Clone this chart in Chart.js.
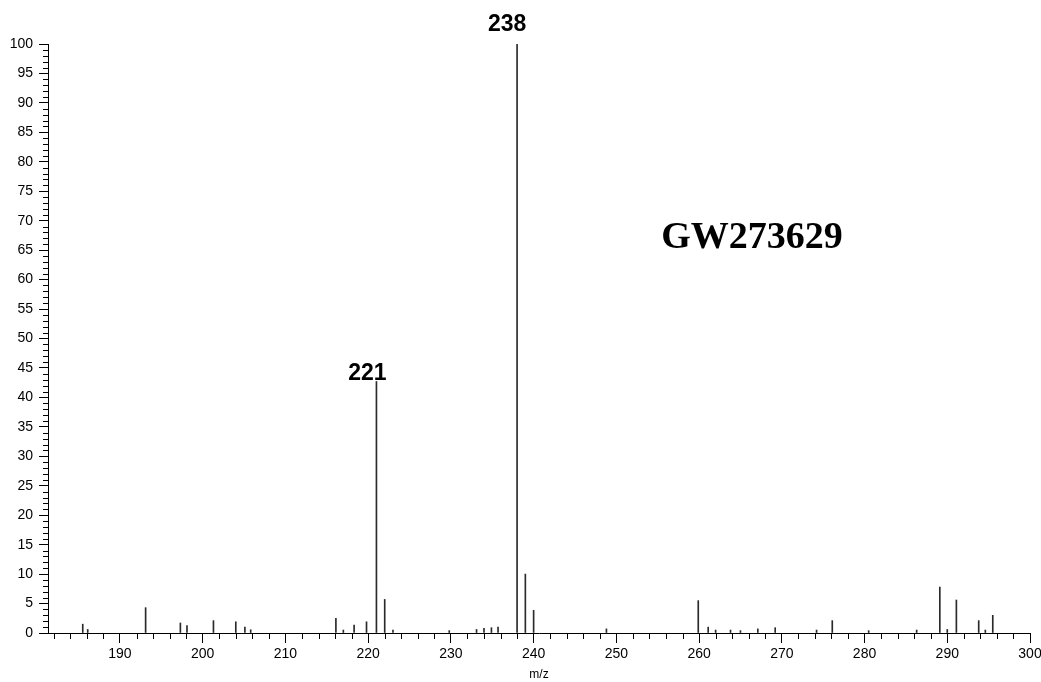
<!DOCTYPE html>
<html>
<head>
<meta charset="utf-8">
<script src="https://cdn.jsdelivr.net/npm/chart.js@4/dist/chart.umd.min.js"></script>
<style>
  html, body { margin: 0; padding: 0; background: #fff; }
  canvas { display: block; }
</style>
</head>
<body>
<canvas id="spectrum" width="1041" height="682"></canvas>
<script>
// peak list
const mzValues = [185.5, 186.1, 193.1, 197.3, 198.1, 201.3, 204.0, 205.1, 205.8,
  216.1, 217.0, 218.3, 219.8, 221.0, 222.0, 223.0, 229.8, 233.1, 234.0, 234.9,
  235.7, 238.0, 239.0, 240.0, 248.8, 259.9, 261.1, 262.0, 263.8, 265.0, 267.1,
  269.2, 274.2, 276.1, 280.5, 286.3, 289.1, 290.0, 291.1, 293.8, 294.6, 295.5];
const intensities = [1.5, 0.6, 4.3, 1.7, 1.25, 2.1, 1.9, 1.0, 0.55,
  2.5, 0.5, 1.35, 1.9, 42.7, 5.7, 0.5, 0.4, 0.6, 0.8, 0.9,
  1.0, 100, 10.0, 3.85, 0.7, 5.5, 1.0, 0.5, 0.5, 0.4, 0.7,
  0.9, 0.5, 2.1, 0.4, 0.5, 7.8, 0.6, 5.6, 2.1, 0.5, 3.0];
const xTickValues = [190, 200, 210, 220, 230, 240, 250, 260, 270, 280, 290, 300];
const labelledPeaks = [221, 238];
const compoundName = "GW273629";

const points = mzValues.map((mz, i) => ({ x: mz, y: intensities[i] }));

// pixel nudges for the peak labels (221 sits on its line, 238 floats above)
const labelNudge = { 221: { dx: -9, dy: -1 }, 238: { dx: -10, dy: -13 } };

// minor ticks + peak labels + compound name
const spectrumDecor = {
  id: "spectrumDecor",
  afterDraw(chart) {
    const ctx = chart.ctx;
    const xs = chart.scales.x;
    const ys = chart.scales.y;
    const area = chart.chartArea;
    ctx.save();
    ctx.strokeStyle = "#000";
    ctx.lineWidth = 1;
    ctx.beginPath();
    for (let v = 0; v <= 100; v++) {
      if (v % 5 === 0) continue;
      const py = Math.round(ys.getPixelForValue(v)) + 0.5;
      ctx.moveTo(area.left - 5, py);
      ctx.lineTo(area.left, py);
    }
    for (let v = 182; v < 300; v += 2) {
      if (v % 10 === 0) continue;
      const px = Math.round(xs.getPixelForValue(v)) + 0.5;
      ctx.moveTo(px, area.bottom);
      ctx.lineTo(px, area.bottom + 6);
    }
    ctx.stroke();

    ctx.fillStyle = "#000";
    ctx.font = "bold 23px 'Liberation Sans', Arial, sans-serif";
    ctx.textAlign = "center";
    ctx.textBaseline = "alphabetic";
    labelledPeaks.forEach((mz) => {
      const i = mzValues.indexOf(mz);
      const n = labelNudge[mz];
      const px = xs.getPixelForValue(mz) + n.dx;
      const py = ys.getPixelForValue(intensities[i]) + n.dy;
      ctx.fillText(String(mz), px, py);
    });

    ctx.font = "bold 38px 'Liberation Serif', 'Times New Roman', serif";
    ctx.textBaseline = "middle";
    ctx.fillText(compoundName, 752, 238);
    ctx.restore();
  },
};

new Chart(document.getElementById("spectrum"), {
  type: "bar",
  data: {
    datasets: [
      {
        data: points,
        backgroundColor: "#2a2a2a",
        barThickness: 1,
        borderWidth: 0,
      },
    ],
  },
  options: {
    responsive: false,
    animation: false,
    layout: { padding: { top: 44, right: 11, left: 0, bottom: 0 } },
    plugins: {
      legend: { display: false },
      tooltip: { enabled: false },
    },
    scales: {
      x: {
        type: "linear",
        min: 181.3,
        max: 300,
        offset: false,
        afterBuildTicks(scale) {
          scale.ticks = xTickValues.map((v) => ({ value: v }));
        },
        afterFit(scale) {
          scale.height = 49;
          scale.paddingLeft = 0;
          scale.paddingRight = 0;
        },
        grid: {
          offset: false,
          drawOnChartArea: false,
          tickLength: 10,
          color: "#000",
        },
        border: { color: "#000", width: 1 },
        ticks: {
          color: "#000",
          padding: 3,
          maxRotation: 0,
          font: { family: "'Liberation Sans', Arial, sans-serif", size: 14 },
        },
        title: {
          display: true,
          text: "m/z",
          color: "#000",
          padding: 0,
          font: { family: "'Liberation Sans', Arial, sans-serif", size: 12 },
        },
      },
      y: {
        min: 0,
        max: 100,
        afterFit(scale) {
          scale.width = 48;
          scale.paddingTop = 0;
          scale.paddingBottom = 0;
        },
        grid: {
          drawOnChartArea: false,
          tickLength: 9,
          color: "#000",
        },
        border: { color: "#000", width: 1 },
        ticks: {
          stepSize: 5,
          color: "#000",
          padding: 6,
          font: { family: "'Liberation Sans', Arial, sans-serif", size: 14 },
        },
      },
    },
  },
  plugins: [spectrumDecor],
});
</script>
</body>
</html>
